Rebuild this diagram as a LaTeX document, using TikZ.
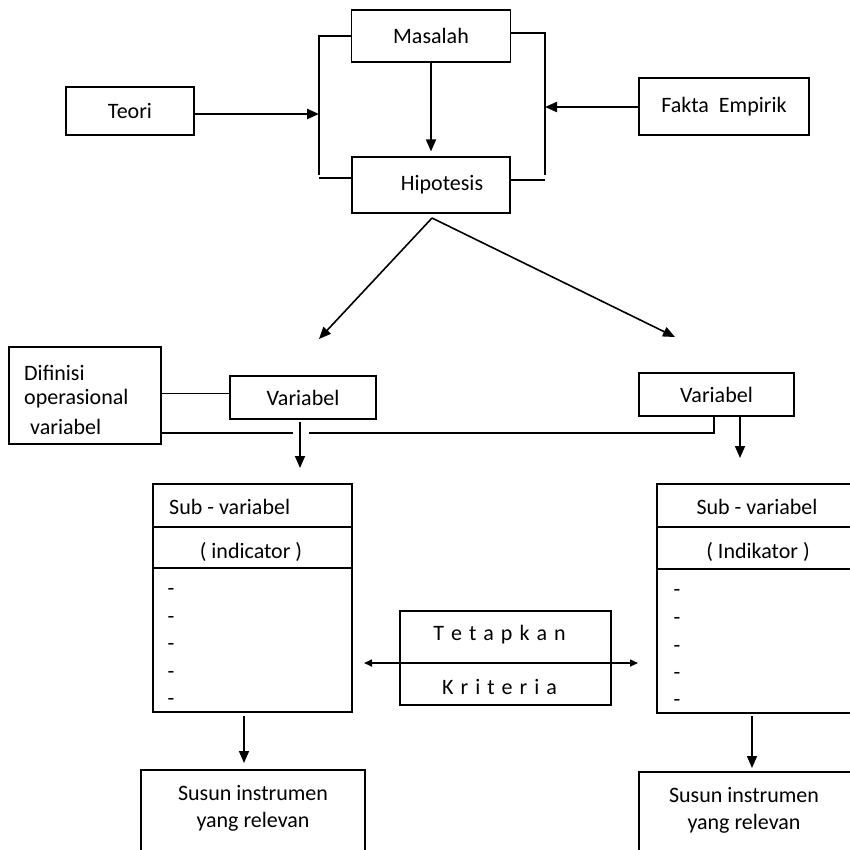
\documentclass[tikz,border=0pt]{standalone}
\usepackage{fontspec}
\setmainfont{Carlito}
\usetikzlibrary{arrows.meta}
\newcommand{\spc}{\hspace{7pt}}
\begin{document}
\begin{tikzpicture}[x=1pt,y=-1pt, font=\fontsize{22}{27}\selectfont,
  box/.style={draw, line width=1.2pt, inner sep=0pt},
  arr/.style={line width=1.6pt, -{Triangle[length=12pt,width=10pt]}},
  sarr/.style={line width=1.6pt, -{Triangle[length=8pt,width=7pt]}},
  txt/.style={inner sep=0pt},
  ln/.style={line width=1.2pt}]
\clip (0,0) rectangle (850,849);
\fill[white] (0,0) rectangle (850,849);

% top part
\node[box, minimum width=159pt, minimum height=52pt] (mas) at (431,36) {Masalah};
\node[box, minimum width=158pt, minimum height=56pt] (hip) at (431,185) {\hspace*{22pt}Hipotesis};
\node[box, minimum width=128pt, minimum height=48pt] (teo) at (130,111) {Teori};
\node[box, minimum width=170pt, minimum height=57pt] (fak) at (724,106.5) {Fakta\ \ Empirik};

\coordinate (LT) at (319,36);
\coordinate (LB) at (319,175);
\coordinate (RT) at (545,33);
\coordinate (RB) at (545,175);
\draw[ln] (mas.west) -- (LT) -- (LB);
\draw[ln] ([yshift=7pt]hip.west) -- ([yshift=7pt]hip.west -| LB);
\draw[ln] ([yshift=3pt]mas.east) -- (RT) -- (RB);
\draw[ln] ([yshift=5pt]hip.east) -- ([yshift=5pt]hip.east -| RB);

\draw[arr, line width=2.4pt] ([yshift=-3pt]teo.east) -- ([yshift=-3pt]teo.east -| LT);
\draw[arr, line width=2.2pt] ([yshift=-0.5pt]fak.west) -- ([yshift=-0.5pt]fak.west -| RT);
\draw[arr] (mas.south) -- ([yshift=5pt]hip.north);

\coordinate (hs) at (432,218);
\coordinate (dl) at (319,339);
\coordinate (dr) at (675,337);
\draw[arr] (hs) -- (dl);
\draw[arr] (hs) -- (dr);

% middle part
\node[box, minimum width=152pt, minimum height=97pt] (dif) at (85,395.5) {};
\node[txt, anchor=west] (d1) at (24,373) {Difinisi};
\node[txt, anchor=west] (d2) at (24,399) {operasional};
\node[txt, anchor=west] (d3) at (30,427) {variabel};

\node[box, minimum width=146pt, minimum height=43pt] (varl) at (303,397.5) {Variabel};
\node[box, minimum width=155pt, minimum height=43pt] (varr) at (716.5,394.5) {Variabel};

\draw[ln] ([yshift=2pt]dif.east) -- ([yshift=2pt]dif.east -| varl.west);
\coordinate (g1) at (293,433);
\coordinate (g2) at (309,433);
\coordinate (jr) at (714,433);
\draw[ln] (dif.east |- g1) -- (g1);
\draw[ln] (g2) -- (jr) -- (jr |- varr.south);

\coordinate (al1) at (300,422);
\coordinate (al2) at (300,468);
\draw[arr] (al1) -- (al2);
\coordinate (ar1) at (740,416);
\coordinate (ar2) at (740,458);
\draw[arr] (ar1) -- (ar2);

% lower boxes
\node[box, minimum width=199pt, minimum height=228pt] (bigl) at (252.5,598) {};
\draw[line width=2.2pt] (bigl.west |- 0,527) -- (bigl.east |- 0,527);
\draw[ln] (bigl.west |- 0,568) -- (bigl.east |- 0,568);
\node[txt, anchor=west] (sl) at (169,507) {Sub - variabel};
\node[txt] (il) at (251,552) {( indicator )};
\node[txt] (l1) at (171,592) {-};
\node[txt] (l2) at (171,620) {-};
\node[txt] (l3) at (171,647) {-};
\node[txt] (l4) at (171,675) {-};
\node[txt] (l5) at (171,702) {-};

\node[box, minimum width=199pt, minimum height=229pt] (bigr) at (756.5,598.5) {};
\draw[line width=2.2pt] (bigr.west |- 0,527) -- (bigr.east |- 0,527);
\draw[ln] (bigr.west |- 0,569) -- (bigr.east |- 0,569);
\node[txt] (sr) at (757,507) {Sub - variabel};
\node[txt] (ir) at (758,552) {( Indikator )};
\node[txt] (r1) at (677,593) {-};
\node[txt] (r2) at (677,621) {-};
\node[txt] (r3) at (677,649) {-};
\node[txt] (r4) at (677,676) {-};
\node[txt] (r5) at (677,703) {-};

\node[box, minimum width=211pt, minimum height=94pt] (tet) at (505.5,658) {};
\draw[ln] (tet.west |- 0,663) -- (tet.east |- 0,663);
\node[txt] (t1) at (499.5,635) {T\spc e\spc t\spc a\spc p\spc k\spc a\spc n};
\node[txt] (t2) at (499.5,687) {K\spc r\spc i\spc t\spc e\spc r\spc i\spc a};
\draw[sarr] (tet.west |- 0,663) -- (364,663);
\draw[sarr] (tet.east |- 0,663) -- (638,663);

\node[box, minimum width=224pt, minimum height=100pt] (susl) at (253,820) {};
\node[txt, align=center] (stl) at (253,808.5) {Susun instrumen\\yang relevan};
\node[box, minimum width=224pt, minimum height=100pt] (susr) at (751,822) {};
\node[txt, align=center] (str) at (744,810) {Susun instrumen\\yang relevan};

\coordinate (bl1) at (244,716);
\coordinate (bl2) at (244,763);
\draw[arr] (bl1) -- (bl2);
\coordinate (br1) at (752,716);
\coordinate (br2) at (752,768);
\draw[arr] (br1) -- (br2);
\end{tikzpicture}
\end{document}
